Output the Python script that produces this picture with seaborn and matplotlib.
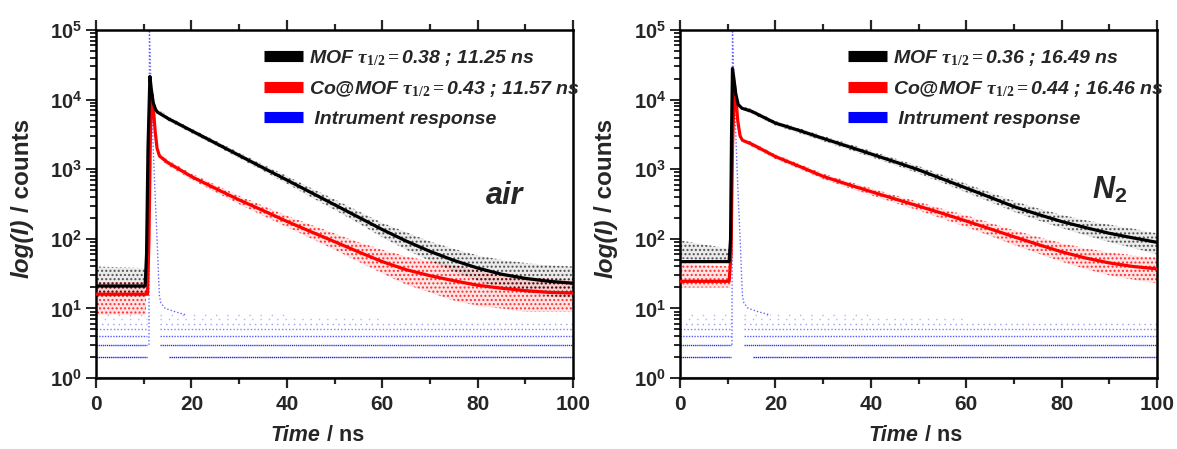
import numpy as np
import pandas as pd
import matplotlib
matplotlib.use("Agg")
import matplotlib.pyplot as plt
import seaborn as sns
from matplotlib.lines import Line2D
from matplotlib.ticker import MultipleLocator, LogLocator, FuncFormatter, NullFormatter

sns.set_theme(style="ticks")
plt.rcParams['font.family'] = ['Liberation Sans', 'DejaVu Sans']
plt.rcParams['font.weight'] = 'bold'
plt.rcParams['mathtext.fontset'] = 'custom'
plt.rcParams['mathtext.it'] = 'Liberation Serif:italic'
plt.rcParams['mathtext.rm'] = 'Liberation Serif'
plt.rcParams['mathtext.bf'] = 'Liberation Sans:bold'
try:
    plt.rcParams['mathtext.bfit'] = 'Liberation Sans:bold:italic'
except KeyError:
    pass
plt.rcParams['hatch.linewidth'] = 1.0

# ---------------- data ----------------
# fitted decay curves
air_mof_t = [0, 10.3, 10.6, 10.9, 11.3, 11.6, 12.0, 12.5, 12.9, 15, 20, 25, 30, 35, 40, 45, 50, 55, 60, 65, 70, 75, 80, 85, 90, 95, 100]
air_mof_c = [21, 21, 60, 2000, 21500, 14000, 9000, 7200, 6600, 5400, 3580, 2380, 1580, 1050, 700, 465, 309, 205, 136, 93, 66, 49, 38, 31, 27, 24.5, 23]
air_co_t = [0, 10.8, 11.1, 11.4, 11.7, 12.0, 12.4, 12.8, 13.3, 15, 20, 25, 30, 35, 40, 45, 50, 55, 60, 65, 70, 75, 80, 85, 90, 95, 100]
air_co_c = [16, 16, 100, 3000, 12000, 8000, 3500, 2000, 1550, 1250, 785, 530, 362, 255, 178, 127, 91, 65, 47, 36, 29.5, 25, 21.5, 19.5, 18, 17, 16.6]

n2_mof_t = [0, 10.3, 10.6, 10.8, 11.0, 11.3, 11.7, 12.2, 13, 15, 20, 25, 30, 35, 40, 45, 50, 55, 60, 65, 70, 75, 80, 85, 90, 95, 100]
n2_mof_c = [47, 47, 100, 3000, 28000, 20000, 12000, 8500, 7500, 6800, 4600, 3600, 2770, 2150, 1660, 1280, 980, 725, 535, 395, 290, 225, 177, 145, 120, 103, 89]
n2_co_t = [0, 10.3, 10.7, 11.0, 11.4, 11.7, 12.1, 12.6, 13.1, 15, 20, 25, 30, 35, 40, 45, 50, 55, 60, 65, 70, 75, 80, 85, 90, 95, 100]
n2_co_c = [24.5, 24.5, 60, 2000, 16000, 11000, 5000, 3000, 2600, 2300, 1520, 1100, 790, 610, 477, 375, 295, 232, 180, 139, 107, 83, 65, 53, 45, 40, 37]

# envelopes of the scattered measured counts (baseline part and decay part)
base_t = [0, 10.5]
air_mof_base_lo = [15, 15]
air_mof_base_hi = [40, 38]
air_co_base_lo = [8, 8]
air_co_base_hi = [24, 24]
n2_mof_base_lo = [52, 45]
n2_mof_base_hi = [95, 72]
n2_co_base_lo = [20, 20]
n2_co_base_hi = [45, 40]

dec_t = [13.5, 15, 20, 25, 30, 35, 40, 45, 50, 55, 60, 65, 70, 75, 80, 85, 90, 95, 100]
air_mof_lo = [6100, 5000, 3300, 2200, 1440, 950, 620, 400, 260, 168, 105, 70, 48, 34, 25, 20, 17, 15, 14]
air_mof_hi = [7100, 5800, 3850, 2600, 1740, 1170, 800, 540, 370, 250, 170, 125, 92, 72, 58, 50, 45, 42, 40]
air_co_lo = [1400, 1140, 710, 470, 315, 215, 148, 102, 70, 47, 32, 22, 17, 13, 11, 10, 9, 9, 9]
air_co_hi = [1650, 1370, 870, 600, 415, 300, 215, 160, 120, 90, 70, 56, 48, 42, 36, 32, 29, 27, 26]
n2_mof_lo = [7000, 6300, 4250, 3300, 2530, 1950, 1500, 1150, 870, 640, 465, 340, 245, 185, 143, 113, 90, 74, 60]
n2_mof_hi = [8000, 7300, 4950, 3900, 3020, 2370, 1840, 1430, 1110, 830, 620, 465, 350, 275, 222, 185, 160, 140, 120]
n2_co_lo = [2400, 2120, 1400, 1010, 720, 550, 425, 330, 255, 195, 148, 110, 82, 62, 47, 37, 30, 26, 23]
n2_co_hi = [2800, 2480, 1640, 1200, 870, 675, 535, 425, 340, 270, 218, 170, 133, 107, 87, 73, 64, 58, 54]

# instrument response
irf_levels = [2, 3, 4, 5, 6, 7, 8]
irf_pre_end = [10.6, 10.6, 10.6, 10.6, 10.6, 10.6, 10.6]
irf_post_start = [15.4, 13.4, 13.4, 13.4, 13.4, 13.4, 13.4]
irf_post_end = [100, 100, 100, 100, 100, 60, 40]
air_irf_t = [11.1, 11.15, 11.2, 11.4, 11.7, 12.0, 12.3, 12.6, 12.9, 13.1, 13.3, 13.6, 14.5, 16.5, 19]
air_irf_c = [3, 300, 100000, 30000, 8000, 2000, 600, 200, 70, 30, 15, 12, 10, 9, 8]
n2_irf_t = [10.9, 10.95, 11.0, 11.2, 11.5, 11.8, 12.1, 12.4, 12.7, 12.9, 13.1, 13.4, 14.3, 16.3, 19]
n2_irf_c = [3, 300, 100000, 30000, 8000, 2000, 600, 200, 70, 30, 15, 12, 10, 9, 8]

legend_air = [r"MOF $\tau_{\mathit{1/2}}$$=$0.38 ; 11.25 ns",
              r"Co@MOF $\tau_{\mathit{1/2}}$$=$0.43 ; 11.57 ns",
              " Intrument response"]
legend_n2 = [r"MOF $\tau_{\mathit{1/2}}$$=$0.36 ; 16.49 ns",
             r"Co@MOF $\tau_{\mathit{1/2}}$$=$0.44 ; 16.46 ns",
             " Intrument response"]
x_ticks = [0, 20, 40, 60, 80, 100]

# ---------------- figure ----------------
W, H = 1177, 449
fig = plt.figure(figsize=(W / 100, H / 100), dpi=100)
ax1 = fig.add_axes([96 / W, 1 - 378 / H, 477 / W, 348 / H])
ax2 = fig.add_axes([680 / W, 1 - 378 / H, 477 / W, 348 / H])

BLACK, RED, BLUE = "#000000", "#ff0000", "#0000ff"
irf_alpha = [0.9, 0.8, 0.65, 0.5, 0.4, 0.3, 0.3]
irf_dash = [(0, (1, 0.5)), (0, (1, 0.5)), (0, (1, 1.0)), (0, (1, 1.5)), (0, (1, 3)), (0, (1, 5)), (0, (1, 7))]


def band(ax, t, lo, hi, color, z, a_fill, a_hatch):
    ax.fill_between(t, lo, hi, facecolor=color, alpha=a_fill, lw=0, zorder=z)
    ax.fill_between(t, lo, hi, facecolor="none", edgecolor=color,
                    hatch="....", lw=0, zorder=z + 0.05, alpha=a_hatch)


def panel(ax, mof_t, mof_c, co_t, co_c, envs, irf_t, irf_c, labels, tag, tag_xy, label_x):
    (mb_lo, mb_hi, cb_lo, cb_hi, m_lo, m_hi, c_lo, c_hi) = envs
    # measured scatter (drawn as dotted bands)
    band(ax, base_t, cb_lo, cb_hi, RED, 1.0, 0.10, 0.75)
    band(ax, dec_t, c_lo, c_hi, RED, 1.0, 0.10, 0.75)
    band(ax, base_t, mb_lo, mb_hi, BLACK, 1.2, 0.08, 0.6)
    band(ax, dec_t, m_lo, m_hi, BLACK, 1.2, 0.08, 0.6)
    # instrument response
    for lev, pe, ps, pend, a, d in zip(irf_levels, irf_pre_end, irf_post_start,
                                       irf_post_end, irf_alpha, irf_dash):
        ax.hlines(lev, 0, pe, colors=BLUE, linestyles=d, lw=1.0, alpha=a, zorder=1.5)
        ax.hlines(lev, ps, pend, colors=BLUE, linestyles=d, lw=1.0, alpha=a, zorder=1.5)
    ax.hlines(1, 0, 100, colors=BLUE, lw=2.2, zorder=2.6)
    ax.plot(irf_t, irf_c, color=BLUE, lw=1.0, ls=(0, (1, 1.5)), alpha=0.6, zorder=1.6)

    # fitted curves
    df = pd.DataFrame({
        "t": list(co_t) + list(mof_t),
        "counts": list(co_c) + list(mof_c),
        "sample": ["Co@MOF"] * len(co_t) + ["MOF"] * len(mof_t),
    })
    sns.lineplot(data=df, x="t", y="counts", hue="sample",
                 palette={"MOF": BLACK, "Co@MOF": RED}, lw=2.3,
                 legend=False, ax=ax, zorder=3, sort=False)

    ax.set_yscale("log")
    ax.set_xlim(0, 100)
    ax.set_ylim(1, 1e5)
    ax.set_xlabel("")
    ax.set_ylabel("")
    ax.set_xticks(x_ticks)
    ax.xaxis.set_minor_locator(MultipleLocator(10))
    ax.yaxis.set_major_locator(LogLocator(base=10, numticks=10))
    ax.yaxis.set_minor_locator(LogLocator(base=10, subs=np.arange(2, 10), numticks=100))
    ax.yaxis.set_major_formatter(FuncFormatter(lambda v, p: r"$\mathbf{10^{%d}}$" % round(np.log10(v))))
    ax.yaxis.set_minor_formatter(NullFormatter())
    ax.tick_params(axis="x", which="both", direction="out", top=True, bottom=True,
                   labeltop=False, labelsize=15, width=1.6, pad=5)
    ax.tick_params(axis="y", which="both", direction="out", left=True, right=False,
                   labelsize=14.5, width=1.4, pad=3)
    ax.tick_params(which="major", length=7)
    ax.tick_params(which="minor", length=4)
    for lab in ax.get_xticklabels():
        lab.set_fontweight("bold")
    for s in ax.spines.values():
        s.set_linewidth(1.8)
        s.set_color("black")
        s.set_visible(True)

    handles = [Line2D([], [], color=BLACK, lw=8, solid_capstyle="butt"),
               Line2D([], [], color=RED, lw=8, solid_capstyle="butt"),
               Line2D([], [], color=BLUE, lw=8, solid_capstyle="butt")]
    ax.legend(handles, labels, loc="upper left", bbox_to_anchor=(0.315, 1.0),
              frameon=False, handlelength=2.0, handletextpad=0.35, labelspacing=0.58,
              prop=dict(family="Liberation Sans", weight="bold", style="italic", size=14))

    ax.text(tag_xy[0], tag_xy[1], tag, transform=ax.transAxes, fontsize=22,
            fontweight="bold", fontstyle="italic", ha="center", va="baseline")

    # x label "Time / ns"
    bb = ax.get_position()
    xr = bb.x0 + label_x * bb.width
    t1 = fig.text(xr, 0.006, "Time", fontsize=15.5, fontweight="bold",
                  fontstyle="italic", ha="right", va="bottom")
    ax.annotate("/ ns", xy=(1, 0), xycoords=t1, xytext=(5, 0), textcoords="offset points",
                fontsize=15.5, fontweight="bold", ha="left", va="bottom")
    # y label "log(I) / counts"
    ylx = bb.x0 - 74 / W
    y1 = fig.text(ylx, 1 - 278 / H, "log(I)", fontsize=17.5, fontweight="bold",
                  fontstyle="italic", rotation=90, ha="center", va="bottom")
    ax.annotate("/ counts", xy=(0.5, 1), xycoords=y1, xytext=(0, 5), textcoords="offset points",
                fontsize=17.5, fontweight="bold", rotation=90, ha="center", va="bottom")


panel(ax1, air_mof_t, air_mof_c, air_co_t, air_co_c,
      (air_mof_base_lo, air_mof_base_hi, air_co_base_lo, air_co_base_hi,
       air_mof_lo, air_mof_hi, air_co_lo, air_co_hi),
      air_irf_t, air_irf_c, legend_air, "air", (0.857, 0.50), 0.47)
panel(ax2, n2_mof_t, n2_mof_c, n2_co_t, n2_co_c,
      (n2_mof_base_lo, n2_mof_base_hi, n2_co_base_lo, n2_co_base_hi,
       n2_mof_lo, n2_mof_hi, n2_co_lo, n2_co_hi),
      n2_irf_t, n2_irf_c, legend_n2,
      r"$\mathbfit{N}_{\mathbf{2}}$", (0.90, 0.515), 0.50)

fig.savefig("out.png", dpi=100)
